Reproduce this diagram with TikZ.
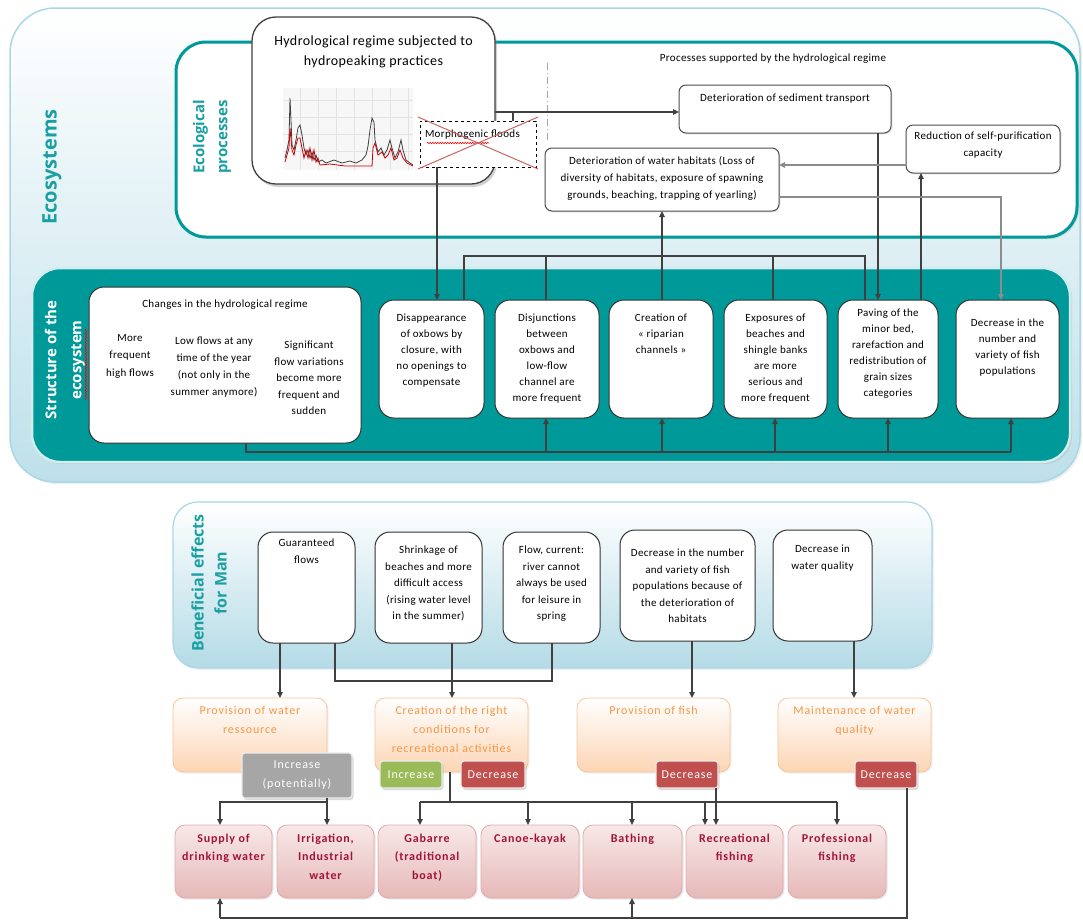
\documentclass[tikz,border=0pt]{standalone}
\usepackage{fontspec}
\setmainfont[LetterSpace=3]{Carlito}
\newfontfamily\widefont[LetterSpace=7]{Carlito}
\newfontfamily\titlefont{Open Sans}
\usetikzlibrary{arrows.meta,shadows,decorations.pathmorphing}

\definecolor{teal1}{RGB}{0,153,153}
\definecolor{tealtxt}{RGB}{26,160,163}
\definecolor{darkconn}{RGB}{64,64,64}
\definecolor{grayconn}{RGB}{140,140,140}
\definecolor{orangetxt}{RGB}{247,150,70}
\definecolor{orangefill}{RGB}{252,213,180}
\definecolor{orangedraw}{RGB}{250,195,150}
\definecolor{pinktop}{RGB}{248,232,232}
\definecolor{pinkfill}{RGB}{230,185,184}
\definecolor{pinkdraw}{RGB}{225,170,170}
\definecolor{pinktxt}{RGB}{160,20,60}
\definecolor{badgegray}{RGB}{166,166,166}
\definecolor{badgegreen}{RGB}{155,187,89}
\definecolor{badgered}{RGB}{192,80,77}
\definecolor{panelblue}{RGB}{190,224,234}
\definecolor{benblue}{RGB}{180,219,230}
\definecolor{panelborder}{RGB}{170,215,230}
\definecolor{xred}{RGB}{205,100,100}

\newcommand{\mybox}[8]{%
  \node[#1, minimum width={#5pt-#3pt}, minimum height={#6pt-#4pt}] (#2) at ({(#3+#5)/2},{(#4+#6)/2}) {};
  \node[#1 txt, anchor=north] (#2t) at ({(#3+#5)/2},{#7-6}) {#8};}

\tikzset{
  every node/.style={inner sep=0pt, outer sep=0pt},
  outerpanel/.style={draw=panelborder, line width=1.5pt, top color=white, bottom color=panelblue, rounded corners=45pt,
     drop shadow={shadow xshift=2pt, shadow yshift=-2pt, opacity=0.12}},
  ecopanel/.style={draw=teal1, line width=3pt, fill=white, rounded corners=30pt,
     drop shadow={shadow xshift=2pt, shadow yshift=-2pt, opacity=0.2}},
  strpanel/.style={draw=white!82!teal1, line width=2.5pt, fill=teal1, rounded corners=28pt,
     drop shadow={shadow xshift=2pt, shadow yshift=-2pt, opacity=0.2}},
  benpanel/.style={draw=panelborder, line width=1.2pt, top color=white, bottom color=benblue, rounded corners=25pt,
     drop shadow={shadow xshift=2pt, shadow yshift=-2pt, opacity=0.12}},
  hbox/.style={draw=black!75, line width=1.3pt, fill=white, rounded corners=24pt,
     drop shadow={shadow xshift=2pt, shadow yshift=-3pt, opacity=0.35}},
  hbox txt/.style={align=center, font=\fontsize{14}{20}\selectfont},
  pbox/.style={draw=black!70, line width=1pt, fill=white, rounded corners=7pt,
     drop shadow={shadow xshift=1.5pt, shadow yshift=-1.5pt, opacity=0.15}},
  pbox txt/.style={align=center, font=\fontsize{11}{17}\selectfont},
  sbox/.style={draw=black!80, line width=1pt, fill=white, rounded corners=15pt},
  sbox txt/.style={align=center, font=\fontsize{11}{16}\selectfont},
  bbox/.style={draw=black!80, line width=1pt, fill=white, rounded corners=15pt},
  bbox txt/.style={align=center, font=\fontsize{11}{16.5}\selectfont},
  obox/.style={draw=orangedraw, line width=0.8pt, top color=white, bottom color=orangefill, rounded corners=10pt,
     drop shadow={shadow xshift=1.5pt, shadow yshift=-1.5pt, opacity=0.12}},
  obox txt/.style={align=center, text=orangetxt, font=\widefont\fontsize{12}{19}\selectfont},
  kbox/.style={draw=pinkdraw, line width=0.8pt, top color=pinktop, bottom color=pinkfill, rounded corners=10pt,
     drop shadow={shadow xshift=1.5pt, shadow yshift=-1.5pt, opacity=0.2}},
  kbox txt/.style={align=center, text=pinktxt, font=\widefont\bfseries\fontsize{12}{18.5}\selectfont},
  badge/.style={draw=white!92!black, line width=1.2pt, rounded corners=3pt, text=white, align=center,
     font=\widefont\fontsize{12}{19}\selectfont,
     drop shadow={shadow xshift=1.5pt, shadow yshift=-2pt, opacity=0.3}},
  ln/.style={draw=darkconn, line width=1.3pt},
  arr/.style={ln, -{Triangle[length=6pt,width=5.5pt]}},
  garr/.style={draw=grayconn, line width=1.3pt, -{Triangle[length=6pt,width=5.5pt]}},
  vtitle/.style={rotate=90, align=center, font=\titlefont\bfseries},
}

\begin{document}
\begin{tikzpicture}[x=1pt,y=-1pt]
\useasboundingbox (0,0) rectangle (1083,922);

% ---------- panels ----------
\node[outerpanel, minimum width=1070pt, minimum height=474pt] (ecosys) at (545,245) {};
\node[ecopanel, minimum width=901pt, minimum height=195pt] (ecoproc) at (626.5,139.5) {};
\node[strpanel, minimum width=1038pt, minimum height=194pt] (strpanel) at (551,365) {};
\node[benpanel, minimum width=759pt, minimum height=166pt] (benpanel) at (552.5,585) {};

\node[vtitle, text=tealtxt, font=\titlefont\bfseries\fontsize{20}{24}\selectfont] (ecotitle) at (52,167) {Ecosystems};
\node[vtitle, text=tealtxt, font=\titlefont\bfseries\fontsize{15}{23}\selectfont] (proctitle) at (212,137) {Ecological\\processes};
\node[vtitle, text=white, font=\titlefont\bfseries\fontsize{15}{25}\selectfont] (strtitle) at (65,360) {Structure of the\\ecosystem};
\draw[red, line width=0.6pt, decorate, decoration={snake, amplitude=0.9pt, segment length=3pt}] (86,400) -- (86,329);
\node[vtitle, text=tealtxt, font=\titlefont\bfseries\fontsize{16}{23}\selectfont] (bentitle) at (209,583) {Beneficial effects\\for Man};

% ---------- ecological processes ----------
\mybox{hbox}{hydro}{252}{17}{495}{184}{42}{Hydrological regime subjected to\\hydropeaking practices}
% chart
\fill[gray!6] (283,88) rectangle (413,170);
\foreach \gx in {300,318,336,354,372,390,408} \draw[gray!22, line width=0.3pt] (\gx,88) -- (\gx,170);
\foreach \gy in {100,117,134,151} \draw[gray!22, line width=0.3pt] (283,\gy) -- (413,\gy);
\draw[black!75, line width=0.8pt] plot coordinates {(285,158) (287,150) (289,140) (290,98) (291,120) (292,145) (294,150) (296,140) (298,128) (300,125) (302,135) (304,148) (306,155) (308,150) (310,158) (312,152) (314,160) (316,155) (318,162) (322,160) (326,163) (334,160) (342,163) (350,161) (356,163) (362,160) (366,155) (368,146) (370,130) (372,118) (374,122) (375,140) (378,152) (381,148) (384,155) (387,150) (390,140) (392,148) (395,158) (398,152) (401,140) (403,150) (406,160) (410,163) (413,165)};
\draw[red!80!black, line width=0.8pt] plot coordinates {(285,162) (287,155) (289,148) (290,128) (292,150) (294,155) (296,145) (298,138) (300,138) (302,148) (304,158) (306,150) (308,158) (310,148) (312,160) (314,150) (316,162) (318,158) (320,165) (330,164) (345,166) (360,166) (372,166) (373,148) (375,143) (378,155) (382,152) (385,158) (388,155) (391,148) (394,160) (397,158) (400,150) (403,158) (407,163) (413,166)};

\node[draw=black, dashed, line width=1pt, fill=white, minimum width=116pt, minimum height=46pt] (morph) at (478,144) {};
\node[anchor=west, font=\fontsize{11}{13}\selectfont] (morpht) at (425,135) {Morphogenic floods};
\draw[red, line width=0.5pt, decorate, decoration={snake, amplitude=0.8pt, segment length=2.5pt}] (427,143) -- (489,143);
\draw[xred, line width=1pt] (418,117) -- (538,169);
\draw[xred, line width=1pt] (418,169) -- (538,117);

\draw[gray!70, line width=0.8pt, dash pattern=on 7pt off 3pt on 1pt off 3pt] (547,63) -- (547,143);
\node[font=\fontsize{11}{13}\selectfont] (procslabel) at (773,59) {Processes supported by the hydrological regime};

\mybox{pbox}{sed}{679}{85}{891}{133}{100}{Deterioration of sediment transport}
\mybox{pbox}{reduc}{906}{125}{1060}{173}{138}{Reduction of self-purification\\capacity}
\mybox{pbox}{habit}{545}{148}{779}{211}{162}{Deterioration of water habitats (Loss of\\diversity of habitats, exposure of spawning\\grounds, beaching, trapping of yearling)}

% ---------- structure ----------
\mybox{sbox}{changes}{89}{287}{361}{443}{306}{Changes in the hydrological regime}
\node[sbox txt, font=\fontsize{11}{17.5}\selectfont, anchor=north] (chg1) at (130,334) {More\\frequent\\high flows};
\node[sbox txt, font=\fontsize{11}{17}\selectfont, anchor=north] (chg2) at (214,337) {Low flows at any\\time of the year\\(not only in the\\summer anymore)};
\node[sbox txt, font=\fontsize{11}{16.5}\selectfont, anchor=north] (chg3) at (309,341) {Significant\\flow variations\\become more\\frequent and\\sudden};
\mybox{sbox}{disap}{379}{300}{484}{418}{320}{Disappearance\\of oxbows by\\closure, with\\no openings to\\compensate}
\mybox{sbox}{disj}{495}{300}{599}{418}{320}{Disjunctions\\between\\oxbows and\\low-flow\\channel are\\more frequent}
\mybox{sbox}{creat}{609}{300}{713}{418}{320}{Creation of\\« riparian\\channels »}
\mybox{sbox}{expo}{724}{300}{827}{418}{320}{Exposures of\\beaches and\\shingle banks\\are more\\serious and\\more frequent}
\mybox{sbox}{paving}{838}{300}{938}{418}{315}{Paving of the\\minor bed,\\rarefaction and\\redistribution of\\grain sizes\\categories}
\mybox{sbox}{decfish}{956}{300}{1059}{418}{325}{Decrease in the\\number and\\variety of fish\\populations}

% ---------- beneficial effects ----------
\mybox{bbox}{guar}{258}{532}{355}{643}{545}{Guaranteed\\flows}
\mybox{bbox}{shrink}{375}{532}{482}{643}{552}{Shrinkage of\\beaches and more\\difficult access\\(rising water level\\in the summer)}
\mybox{bbox}{flowb}{503}{532}{600}{643}{552}{Flow, current:\\river cannot\\always be used\\for leisure in\\spring}
\mybox{bbox}{decf2}{620}{530}{755}{641}{555}{Decrease in the number\\and variety of fish\\populations because of\\the deterioration of\\habitats}
\mybox{bbox}{decwq}{773}{530}{872}{641}{551}{Decrease in\\water quality}

\mybox{obox}{provw}{173}{698}{327}{772}{712}{Provision of water\\ressource}
\mybox{obox}{creatr}{375}{698}{528}{772}{712}{Creation of the right\\conditions for\\recreational activities}
\mybox{obox}{provf}{577}{698}{730}{772}{712}{Provision of fish}
\mybox{obox}{maintq}{778}{698}{931}{772}{712}{Maintenance of water\\quality}

\node[badge, fill=badgegray, minimum width=110pt, minimum height=45pt] (incp) at (297,775.5) {Increase\\(potentially)};
\node[badge, fill=badgegreen, minimum width=62pt, minimum height=27pt] (incg) at (411,774.5) {Increase};
\node[badge, fill=badgered, minimum width=64pt, minimum height=27pt] (decr) at (493,774.5) {Decrease};
\node[badge, fill=badgered, minimum width=62pt, minimum height=27pt] (decfb) at (687,774.5) {Decrease};
\node[badge, fill=badgered, minimum width=62pt, minimum height=27pt] (decwb) at (886,774.5) {Decrease};

\mybox{kbox}{supply}{175}{825}{272}{898}{840}{Supply of\\drinking water}
\mybox{kbox}{irrig}{277}{825}{374}{898}{840}{Irrigation,\\Industrial\\water}
\mybox{kbox}{gab}{378}{825}{476}{898}{840}{Gabarre\\(traditional\\boat)}
\mybox{kbox}{canoe}{481}{825}{579}{898}{840}{Canoe-kayak}
\mybox{kbox}{bath}{583}{825}{682}{898}{840}{Bathing}
\mybox{kbox}{recf}{686}{825}{783}{898}{840}{Recreational\\fishing}
\mybox{kbox}{prof}{788}{825}{886}{898}{840}{Professional\\fishing}

% ---------- connectors: top ----------
\draw[arr] (hydro.east |- 0,112) -- (sed.west |- 0,112);
\draw[ln] (hydro.east |- 0,112) -| (morph.north -| 513,0);
\draw[arr] (morph.south -| 437,0) -- (disap.north -| 437,0);
\draw[ln] (disap.north -| 464,0) -- (464,256) -- (865,256) -- (paving.north -| 865,0);
\draw[ln] (disj.north -| 546,0) -- (546,256);
\draw[ln] (expo.north -| 773,0) -- (773,256);
\draw[arr] (creat.north -| 662,0) -- (habit.south -| 662,0);
\draw[arr] (sed.south -| 878,0) -- (paving.north -| 878,0);
\draw[arr] (paving.north -| 921,0) -- (reduc.south -| 921,0);
\draw[garr] (reduc.west |- 0,165) -- (habit.east |- 0,165);
\draw[garr] (habit.east |- 0,197) -| (decfish.north -| 1001,0);

% structure bottom
\draw[ln] (changes.south -| 246,0) |- (1011,452);
\draw[arr] (1011,452) -- (decfish.south -| 1011,0);
\draw[arr] (546,452) -- (disj.south -| 546,0);
\draw[arr] (662,452) -- (creat.south -| 662,0);
\draw[arr] (775,452) -- (expo.south -| 775,0);
\draw[arr] (888,452) -- (paving.south -| 888,0);

% ---------- connectors: beneficial ----------
\draw[arr] (guar.south -| 280,0) -- (provw.north -| 280,0);
\draw[ln] (guar.south -| 335,0) |- (552,681) -- (flowb.south -| 552,0);
\draw[arr] (shrink.south -| 452,0) -- (creatr.north -| 452,0);
\draw[arr] (decf2.south -| 692,0) -- (provf.north -| 692,0);
\draw[arr] (decwq.south -| 854,0) -- (maintq.north -| 854,0);

\draw[arr] (incp.south -| 327,0) -- (irrig.north -| 327,0);
\draw[arr] (327,802) -| (supply.north -| 220,0);

\draw[ln] (creatr.south -| 450,0) -- (450,802);
\draw[ln] (420,802) -- (837,802);
\draw[arr] (420,802) -- (gab.north -| 420,0);
\draw[arr] (528,802) -- (canoe.north -| 528,0);
\draw[arr] (632,802) -- (bath.north -| 632,0);
\draw[arr] (705,802) -- (recf.north -| 705,0);
\draw[arr] (837,802) -- (prof.north -| 837,0);
\draw[arr] (decfb.south -| 716,0) -- (recf.north -| 716,0);

\draw[ln] (decwb.south -| 907,0) |- (220,918);
\draw[arr] (220,918) -- (supply.south -| 220,0);
\draw[arr] (632,918) -- (bath.south -| 632,0);
\end{tikzpicture}
\end{document}
